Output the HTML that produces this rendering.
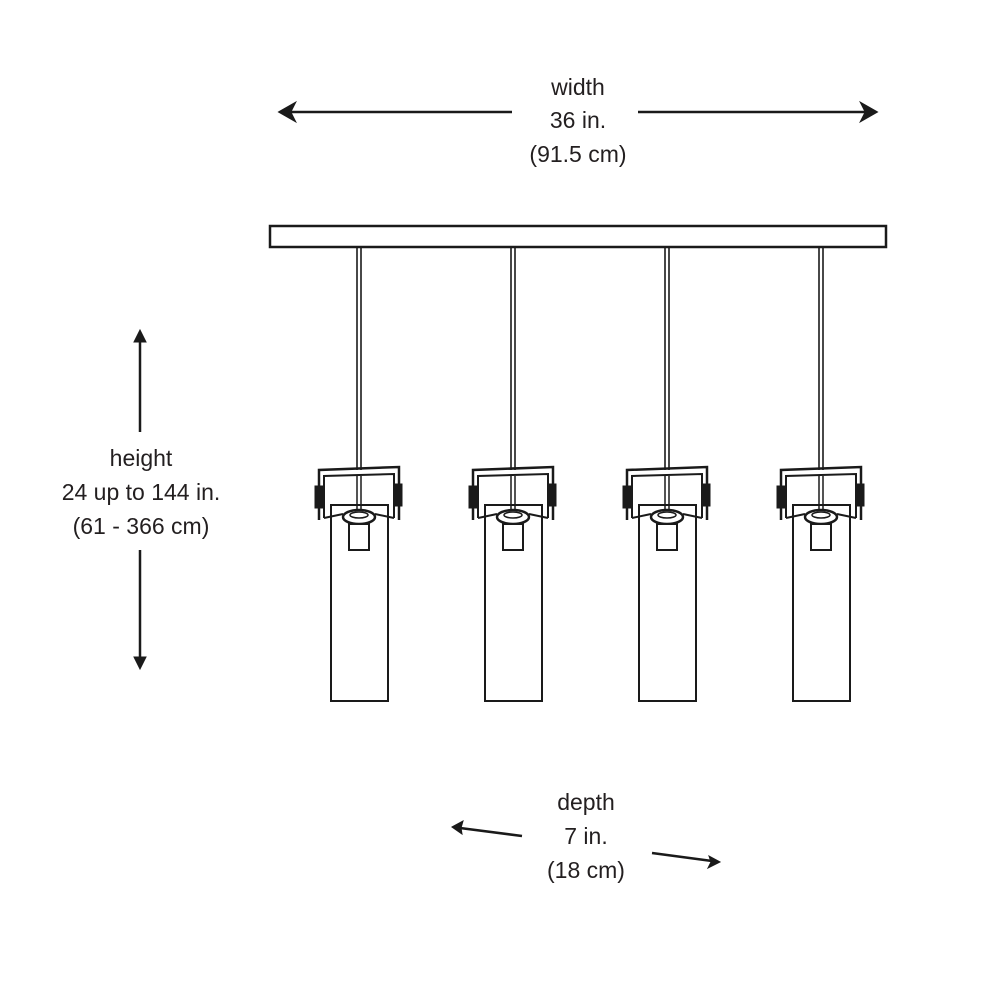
<!DOCTYPE html>
<html><head><style>
html,body{margin:0;padding:0;background:#fff;}
svg{display:block;}
text{font-family:"Liberation Sans",sans-serif;font-size:23px;fill:#231f20;text-anchor:middle;}
</style></head><body>
<svg width="1000" height="1000" viewBox="0 0 1000 1000">
<defs>
<g id="p" fill="none" stroke="#1a1a1a">
  <line x1="-2" y1="247" x2="-2" y2="470" stroke-width="1.6"/>
  <line x1="2" y1="247" x2="2" y2="470" stroke-width="1.6"/>
  <path d="M-40 520 L-40 470 L40 467 L40 520" stroke-width="2.5"/>
  <path d="M-35 518 L-35 476 L35 474 L35 518" stroke-width="2"/>
  <rect x="-44" y="486" width="8" height="22" fill="#1a1a1a" stroke-width="1"/>
  <rect x="35" y="484" width="8" height="22" fill="#1a1a1a" stroke-width="1"/>
  <line x1="-2" y1="476" x2="-2" y2="512" stroke-width="1.5"/>
  <line x1="2" y1="476" x2="2" y2="512" stroke-width="1.5"/>
  <rect x="-28" y="505" width="57" height="196" stroke-width="2"/>
  <ellipse cx="0" cy="517" rx="16" ry="7" fill="#fff" stroke-width="2.5"/>
  <ellipse cx="0" cy="515" rx="9" ry="3" stroke-width="1.5"/>
  <path d="M-35 518 L-16 514 M35 518 L16 514" stroke-width="2"/>
  <rect x="-10" y="524" width="20" height="26" fill="#fff" stroke-width="2"/>
</g>
</defs>
<text x="578" y="95">width</text>
<text x="578" y="128">36 in.</text>
<text x="578" y="162">(91.5 cm)</text>
<g stroke="#1a1a1a" stroke-width="2.5" fill="#1a1a1a">
<line x1="288" y1="112" x2="512" y2="112"/>
<path d="M280 112 L294 104 L290 112 L294 120 Z"/>
<line x1="638" y1="112" x2="868" y2="112"/>
<path d="M876 112 L862 104 L866 112 L862 120 Z"/>
<line x1="140" y1="337" x2="140" y2="432"/>
<path d="M140 330 L134 342 L146 342 Z" stroke-width="1"/>
<line x1="140" y1="550" x2="140" y2="662"/>
<path d="M140 669 L134 657 L146 657 Z" stroke-width="1"/>
<line x1="460" y1="828" x2="522" y2="836"/>
<path d="M452 827 L463 821 L461 828 L462 834 Z" stroke-width="1"/>
<line x1="652" y1="853" x2="712" y2="861"/>
<path d="M720 862 L709 856 L711 862 L708 868 Z" stroke-width="1"/>
</g>
<rect x="270" y="226" width="616" height="21" fill="#fff" stroke="#1a1a1a" stroke-width="2.5"/>
<use href="#p" x="359"/>
<use href="#p" x="513"/>
<use href="#p" x="667"/>
<use href="#p" x="821"/>
<text x="141" y="466">height</text>
<text x="141" y="500">24 up to 144 in.</text>
<text x="141" y="534">(61 - 366 cm)</text>
<text x="586" y="810">depth</text>
<text x="586" y="844">7 in.</text>
<text x="586" y="878">(18 cm)</text>
</svg>
</body></html>
